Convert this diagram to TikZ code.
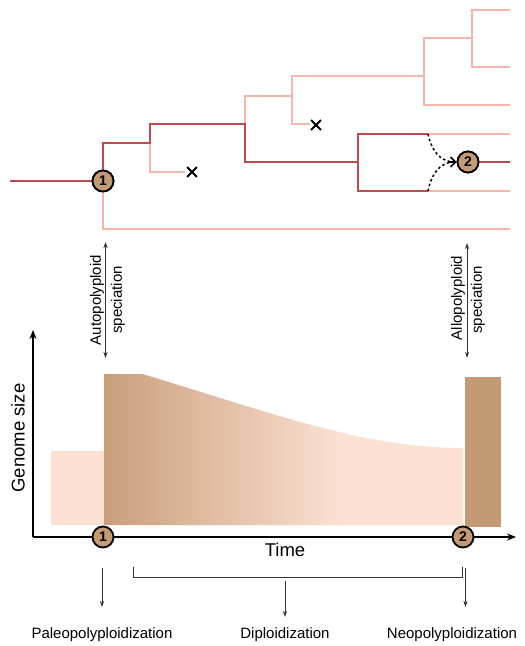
\documentclass[tikz,border=0pt]{standalone}
\usepackage{fontspec}
\setmainfont{Liberation Sans}
\usetikzlibrary{arrows.meta,shapes.misc}
\definecolor{darkred}{HTML}{C0494E}
\definecolor{lightred}{HTML}{F5B6A8}
\definecolor{tanc}{HTML}{C49A74}
\definecolor{peach}{HTML}{FCE1D3}
\definecolor{gradc}{HTML}{C99F7B}
\tikzset{
  dk/.style={draw=darkred, line width=2.5pt},
  lt/.style={draw=lightred, line width=2.5pt},
  num/.style={circle, draw=black, line width=1.8pt, fill=tanc, minimum size=21pt, inner sep=0pt, font=\bfseries\fontsize{14}{14}\selectfont},
  thinarrow/.style={draw=black!80, line width=0.8pt, -{Stealth[length=6pt,width=4pt]}},
  twoarrow/.style={draw=black!80, line width=0.8pt, {Stealth[length=6pt,width=4pt]}-{Stealth[length=6pt,width=4pt]}},
  lab/.style={font=\fontsize{15}{17}\selectfont, inner sep=0pt},
  biglab/.style={font=\fontsize{18.5}{20}\selectfont, inner sep=0pt},
  xmark/.style={cross out, draw=black, line width=1.8pt, minimum size=8pt, inner sep=0pt},
  dashcurve/.style={draw=black, line width=1.5pt, dash pattern=on 2.5pt off 2.5pt},
  axisline/.style={draw=black, line width=1.5pt},
}
\begin{document}
\begin{tikzpicture}[x=1pt,y=-1pt]
\useasboundingbox (0,0) rectangle (525,646);

% ---------- phylogenetic tree ----------
\coordinate (root) at (10,181);
\node[num] (c1) at (103,181) {};
\node[num] (c2) at (468,162) {};
\node[xmark] (x1) at (192,172) {};
\node[xmark] (x2) at (316,125) {};

% light branches
\draw[lt] (c1) -- (103,229) -- (510,229);
\draw[lt] (150,143) -- (150,172) -- (185,172);
\draw[lt] (245,124) -- (245,96) -- (292,96);
\draw[lt] (310,124) -- (292,124) -- (292,76) -- (424,76);
\draw[lt] (510,105) -- (424,105) -- (424,38) -- (472,38);
\draw[lt] (510,10) -- (472,10) -- (472,67) -- (510,67);
\draw[lt] (428,134) -- (510,134);
\draw[lt] (428,191) -- (510,191);

% dark branches
\draw[dk] (root) -- (c1);
\draw[dk] (c1) -- (103,143) -- (150,143) -- (150,124) -- (245,124) -- (245,162) -- (358,162);
\draw[dk] (428,134) -- (358,134) -- (358,191) -- (428,191);
\draw[dk] (c2) -- (510,162);

% redraw circles on top
\node[num] at (c1) {1};
\node[num] at (c2) {2};

% dashed hybridisation curves
\draw[dashcurve] (428,134) .. controls (432,152) and (440,160) .. (452,162);
\draw[dashcurve] (428,191) .. controls (432,172) and (440,164) .. (452,162);
\draw[black, line width=1.5pt, -{Straight Barb[length=5pt,width=10pt]}] (448,162) -- (c2.west);

% ---------- speciation arrows ----------
\coordinate (sa1) at (105.5,242);
\coordinate (sa2) at (105.5,358);
\draw[twoarrow] (sa1) -- (sa2);
\node[lab, rotate=90] (auto) at (97,300) {Autopolyploid};
\node[lab, rotate=90] (autos) at (118,300) {speciation};

\coordinate (sb1) at (467,243);
\coordinate (sb2) at (467,358);
\draw[twoarrow] (sb1) -- (sb2);
\node[lab, rotate=90] (allo) at (458,298) {Allopolyploid};
\node[lab, rotate=90] (allos) at (478,300) {speciation};

% ---------- genome size chart ----------
\fill[peach] (51,451) rectangle (104,525);
\path[fill=peach] (104,525) -- (104,374) -- (142,374) .. controls (270,412) and (360,448) .. (463,448) -- (463,525) -- cycle;
\begin{scope}
  \clip (104,525) -- (104,374) -- (142,374) .. controls (270,412) and (360,448) .. (463,448) -- (463,525) -- cycle;
  \shade[left color=gradc, right color=peach] (104,365) rectangle (345,530);
\end{scope}
\fill[tanc] (465,377) rectangle (501,527);

\coordinate (orig) at (33,537);
\coordinate (ytop) at (33,330);
\coordinate (xend) at (516,537);
\draw[axisline, -{Stealth[length=9pt,width=7pt]}] (orig) -- (ytop);
\draw[axisline, -{Stealth[length=9pt,width=7pt]}] (orig) -- (xend);

\node[num] (d1) at (103,537) {1};
\node[num] (d2) at (463,537) {2};

\node[biglab, rotate=90] (gs) at (18,438) {Genome size};
\node[biglab] (time) at (285,550) {Time};

% ---------- bottom annotations ----------
\coordinate (pa1) at (102,568);
\coordinate (pa2) at (102,607);
\draw[thinarrow] (pa1) -- (pa2);
\coordinate (na1) at (465.5,568);
\coordinate (na2) at (465.5,607);
\draw[thinarrow] (na1) -- (na2);
\coordinate (bl) at (133,567);
\coordinate (br) at (462,567);
\draw[draw=black!80, line width=0.8pt] (bl) -- (133,577) -- (462,577) -- (br);
\coordinate (da1) at (285,581);
\coordinate (da2) at (285,617);
\draw[thinarrow] (da1) -- (da2);

\node[lab] (paleo) at (102,635) {Paleopolyploidization};
\node[lab] (diplo) at (285,635) {Diploidization};
\node[lab] (neo) at (452,635) {Neopolyploidization};
\end{tikzpicture}
\end{document}
